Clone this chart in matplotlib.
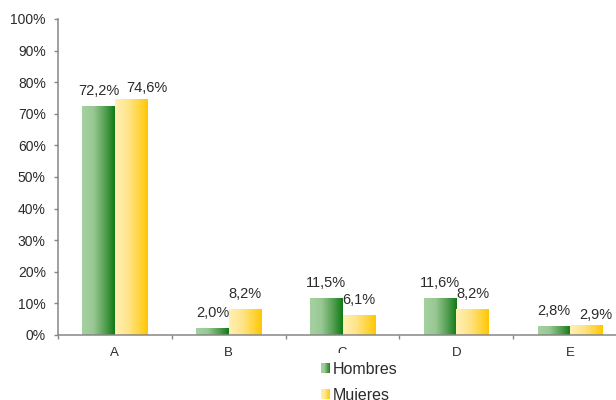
import numpy as np
import matplotlib
matplotlib.use('Agg')
import matplotlib.pyplot as plt
from matplotlib.colors import LinearSegmentedColormap
from matplotlib.patches import Rectangle
from matplotlib.legend_handler import HandlerBase

# ---- data ----
categories = ['A', 'B', 'C', 'D', 'E']
hombres = [72.2, 2.0, 11.5, 11.6, 2.8]
mujeres = [74.6, 8.2, 6.1, 8.2, 2.9]
series_names = ['Hombres', 'Mujeres']
yticks = list(range(0, 101, 10))

plt.rcParams['font.family'] = ['Liberation Sans', 'DejaVu Sans']
TXT = '#2b2b2b'
GRAY = '#868686'

green = LinearSegmentedColormap.from_list(
    'g', [(0, '#a5d1a1'), (0.35, '#98c894'), (0.7, '#55a052'), (1, '#0f7a14')])
yellow = LinearSegmentedColormap.from_list(
    'y', [(0, '#fff0b3'), (0.4, '#ffe48a'), (0.75, '#ffd43c'), (1, '#ffc700')])

W, H = 616, 400
fig = plt.figure(figsize=(W / 100, H / 100), dpi=100)
ax = fig.add_axes([58 / W, (H - 335) / H, (627 - 58) / W, (335 - 19) / H])

x = np.arange(len(categories))
w = 0.285
b1 = ax.bar(x - w / 2, hombres, w, facecolor='none', edgecolor='none')
b2 = ax.bar(x + w / 2, mujeres, w, facecolor='none', edgecolor='none')

grad = np.linspace(0, 1, 256).reshape(1, -1)
for bars, cmap in ((b1, green), (b2, yellow)):
    for r in bars:
        x0, y0 = r.get_x(), r.get_y()
        ax.imshow(grad, extent=[x0, x0 + r.get_width(), y0, y0 + r.get_height()],
                  aspect='auto', cmap=cmap, interpolation='bilinear', zorder=2)

ax.set_xlim(-0.5, len(categories) - 0.5)
ax.set_ylim(0, 100)

# data labels (pixel shifts for a couple of labels placed off-centre)
shift = {(1, 0): (16, -4.5), (1, 4): (9, -4.5)}
px = 72 / 100
for s, (bars, vals) in enumerate(((b1, hombres), (b2, mujeres))):
    for i, (r, v) in enumerate(zip(bars, vals)):
        dx, dy = shift.get((s, i), (0, 0))
        ax.annotate(f"{v:.1f}%".replace('.', ','),
                    (r.get_x() + r.get_width() / 2, r.get_height()),
                    xytext=(dx * px, (11.5 + dy) * px), textcoords='offset points',
                    ha='center', va='baseline', fontsize=10.5, color=TXT, zorder=3)

# axes styling
for sp in ('top', 'right'):
    ax.spines[sp].set_visible(False)
for sp in ('left', 'bottom'):
    ax.spines[sp].set_color(GRAY)
    ax.spines[sp].set_linewidth(1.1)

ax.set_yticks(yticks)
ax.set_yticklabels([f"{t}%" for t in yticks])
ax.tick_params(axis='y', length=3, width=1, color=GRAY, pad=5.8,
               labelsize=10, labelcolor=TXT, direction='out')

ax.set_xticks(x)
ax.set_xticklabels(categories)
ax.set_xticks(np.arange(-0.5, len(categories), 1), minor=True)
ax.tick_params(axis='x', which='major', length=0, pad=8.4, labelsize=9.5, labelcolor=TXT)
ax.tick_params(axis='x', which='minor', length=3, width=1, color=GRAY, direction='out')


class GradHandler(HandlerBase):
    def __init__(self, cmap):
        super().__init__()
        self.cmap = cmap

    def create_artists(self, legend, orig_handle, xdescent, ydescent, width, height,
                       fontsize, trans):
        n = 16
        arts = []
        for i in range(n):
            arts.append(Rectangle((-xdescent + width * i / n, -ydescent), width / n * 1.1,
                                  height, facecolor=self.cmap((i + 0.5) / n),
                                  edgecolor='none', transform=trans))
        return arts


h1 = Rectangle((0, 0), 1, 1)
h2 = Rectangle((0, 0), 1, 1)
leg = ax.legend([h1, h2], series_names,
                handler_map={h1: GradHandler(green), h2: GradHandler(yellow)},
                loc='upper left', bbox_to_anchor=(312.5 / W, (H - 353) / H),
                bbox_transform=fig.transFigure, frameon=True, fancybox=False,
                edgecolor='none', facecolor='white', framealpha=1, fontsize=11.5,
                handlelength=0.56, handleheight=0.63, handletextpad=0.15,
                labelspacing=0.68, borderpad=0.55, borderaxespad=0)
for t in leg.get_texts():
    t.set_color(TXT)

fig.savefig('out.png', dpi=100)
